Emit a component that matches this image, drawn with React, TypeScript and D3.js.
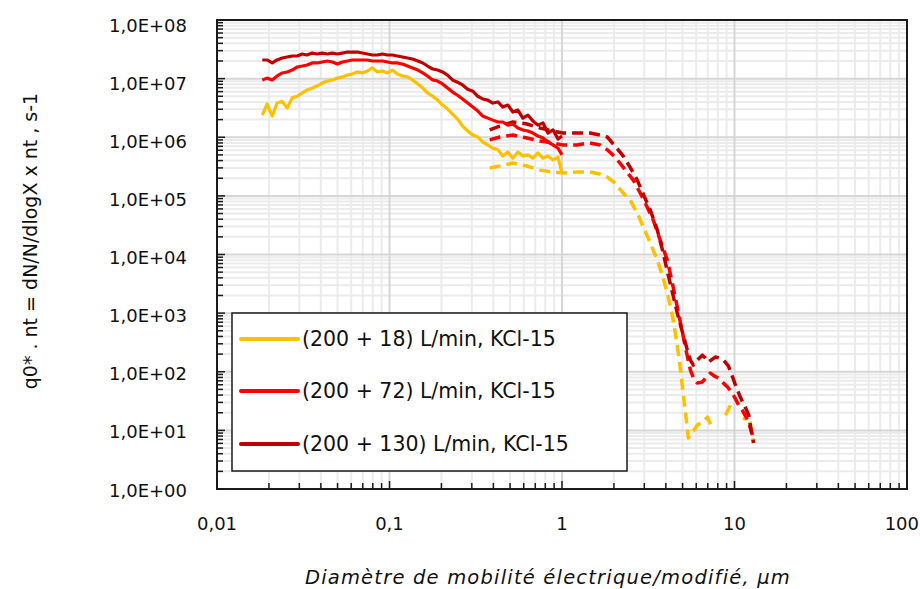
import React from "react";
import * as d3 from "d3";

// ---------- data ----------
const seriesNames = [
  "(200 + 18) L/min, KCl-15",
  "(200 + 72) L/min, KCl-15",
  "(200 + 130) L/min, KCl-15",
];
const seriesColors = ["#FFC000", "#FF0000", "#C00000"];

// SMPS sizes (µm), solid part
const smpsSizes = [0.0183, 0.0195, 0.0209, 0.0223, 0.0239, 0.0255, 0.0273, 0.0292, 0.0312, 0.0333,
  0.0356, 0.0381, 0.0407, 0.0436, 0.0466, 0.0499, 0.0533, 0.057, 0.0609, 0.0651,
  0.0697, 0.0745, 0.0796, 0.0851, 0.091, 0.0973, 0.104, 0.111, 0.119, 0.127,
  0.136, 0.146, 0.156, 0.166, 0.178, 0.19, 0.203, 0.217, 0.232, 0.248,
  0.265, 0.284, 0.304, 0.325, 0.347, 0.371, 0.397, 0.425, 0.454, 0.485,
  0.519, 0.555, 0.593, 0.634, 0.678, 0.725, 0.776, 0.829, 0.887, 0.948, 1.0];

const smps18 = [2.39e6, 3.68e6, 2.3e6, 3.83e6, 4.1e6, 3.15e6, 4.7e6, 5.0e6, 5.7e6, 6.4e6,
  6.9e6, 7.5e6, 8.4e6, 9.1e6, 9.5e6, 1.02e7, 1.07e7, 1.15e7, 1.2e7, 1.3e7,
  1.25e7, 1.35e7, 1.52e7, 1.3e7, 1.35e7, 1.25e7, 1.4e7, 1.2e7, 1.11e7, 1.07e7,
  9.5e6, 8.1e6, 6.9e6, 5.7e6, 5.0e6, 4.3e6, 3.54e6, 3.03e6, 2.49e6, 2.04e6,
  1.55e6, 1.28e6, 1.09e6, 1.01e6, 8.3e5, 7.4e5, 6.5e5, 6.1e5, 4.8e5, 5.6e5,
  4.4e5, 5.6e5, 4.8e5, 5.0e5, 4.4e5, 5.4e5, 4.4e5, 4.8e5, 4.1e5, 4.6e5, 2.45e5];

const smps72 = [9.5e6, 1.02e7, 9.5e6, 1.11e7, 1.25e7, 1.3e7, 1.4e7, 1.58e7, 1.64e7, 1.71e7,
  1.85e7, 1.85e7, 1.92e7, 2.0e7, 1.92e7, 1.77e7, 1.92e7, 2.0e7, 2.08e7, 2.08e7,
  2.08e7, 2.08e7, 2.0e7, 2.0e7, 2.0e7, 1.92e7, 1.85e7, 1.85e7, 1.77e7, 1.64e7,
  1.52e7, 1.4e7, 1.25e7, 1.11e7, 9.5e6, 9.1e6, 8.1e6, 6.9e6, 5.9e6, 5.2e6,
  4.5e6, 3.83e6, 3.27e6, 2.8e6, 2.3e6, 2.12e6, 1.96e6, 1.82e6, 1.82e6, 1.61e6,
  1.68e6, 1.44e6, 1.33e6, 1.28e6, 1.18e6, 1.05e6, 9.7e5, 8.3e5, 7.4e5, 6.5e5, 5.0e5];

const smps130 = [2.08e7, 2.08e7, 1.85e7, 2.08e7, 2.25e7, 2.34e7, 2.43e7, 2.43e7, 2.63e7, 2.53e7,
  2.73e7, 2.63e7, 2.73e7, 2.63e7, 2.73e7, 2.63e7, 2.73e7, 2.84e7, 2.84e7, 2.84e7,
  2.73e7, 2.63e7, 2.53e7, 2.53e7, 2.63e7, 2.53e7, 2.53e7, 2.43e7, 2.34e7, 2.25e7,
  2.16e7, 2.0e7, 1.85e7, 1.64e7, 1.46e7, 1.4e7, 1.3e7, 1.15e7, 9.5e6, 8.7e6,
  7.8e6, 6.6e6, 6.1e6, 5.0e6, 4.5e6, 4.3e6, 3.83e6, 4.0e6, 3.27e6, 3.54e6,
  2.69e6, 2.91e6, 2.12e6, 2.39e6, 1.89e6, 1.61e6, 1.75e6, 1.18e6, 1.33e6, 9.3e5, 1.05e6];

// dashed part (modified diameter)
const mod18Sizes = [0.381, 0.436, 0.519, 0.627, 0.745, 0.887, 1.01, 1.22, 1.45, 1.66,
  1.83, 2.03, 2.26, 2.48, 2.73, 2.96, 3.25, 3.57, 3.81, 4.08,
  4.36, 4.54, 4.79, 4.99, 5.19, 5.4, 5.7, 6.09, 6.51, 6.96,
  7.45, 8.0, 8.87, 9.48, 10.5, 11.3, 11.9, 12.4, 12.9];
const mod18 = [2.98e5, 3.23e5, 3.63e5, 3.23e5, 2.75e5, 2.55e5, 2.45e5, 2.55e5, 2.55e5, 2.36e5,
  2.09e5, 1.65e5, 1.12e5, 8.5e4, 5.1e4, 2.94e4, 1.57e4, 8.0e3, 4.45e3, 2.19e3,
  925, 456, 158, 55, 20.5, 7.4, 9.3, 12.3, 13.8, 16.8,
  10.9, null, 18.2, 27, null, 14.9, 19.7, 12.3, 6.1];

const mod72Sizes = [0.381, 0.436, 0.519, 0.627, 0.745, 0.887, 1.01, 1.22, 1.45, 1.66,
  1.83, 2.03, 2.26, 2.59, 2.84, 3.12, 3.38, 3.71, 4.08, 4.36,
  4.66, 4.92, 5.19, 5.55, 5.85, 6.09, 6.51, 6.87, 7.25, 7.65,
  8.07, 8.63, 9.11, 9.61, 10.1, 10.5, 11.1, 11.6, 12.1, 12.7];
const mod72 = [9.0e5, 1.01e6, 1.09e6, 9.7e5, 8.6e5, 8.0e5, 7.4e5, 7.4e5, 8.0e5, 7.4e5,
  6.1e5, 4.6e5, 3.1e5, 1.86e5, 1.12e5, 6.4e4, 3.86e4, 1.76e4, 8.0e3, 3.25e3,
  1.26e3, 577, 263, 107, 72, 64, 67, 81, 95, 84,
  78, 64, 55, 45, 35, 28, 22, 17.5, 13.3, 8.3];

const mod130Sizes = [0.381, 0.436, 0.519, 0.627, 0.745, 0.887, 1.01, 1.22, 1.45, 1.66,
  1.83, 2.03, 2.26, 2.48, 2.73, 2.96, 3.25, 3.57, 3.86, 4.13,
  4.36, 4.66, 4.99, 5.33, 5.55, 5.78, 6.09, 6.51, 6.78, 7.06,
  7.45, 7.76, 8.18, 8.63, 9.23, 9.61, 10.1, 10.8, 11.6, 12.1, 12.4, 12.9];
const mod130 = [1.33e6, 1.55e6, 1.82e6, 1.68e6, 1.44e6, 1.28e6, 1.18e6, 1.18e6, 1.18e6, 1.09e6,
  1.01e6, 7.1e5, 4.8e5, 3.1e5, 1.86e5, 1.07e5, 5.7e4, 2.61e4, 1.06e4, 4.45e3,
  2.28e3, 1.0e3, 474, 234, 158, 130, 158, 192, 171, 146,
  164, 178, 171, 158, 125, 91, 61, 37, 24, 18.2, 11.4, 6.1];

const xTickLabels = ["0,01", "0,1", "1", "10", "100"];
const xTickValues = [0.01, 0.1, 1, 10, 100];
const yExponents = [0, 1, 2, 3, 4, 5, 6, 7, 8];

const xTitle = "Diamètre de mobilité électrique/modifié, µm";
const yTitle = "q0* . nt = dN/N/dlogX x nt , s-1";

// ---------- layout ----------
const W = 920, H = 589;
const L = 217, R = 907, T = 20, B = 489;
const FONT = "'DejaVu Sans', 'Open Sans', sans-serif";

export default function App() {
  const x = d3.scaleLog().domain([0.01, 100]).range([L, R]);
  const y = d3.scaleLog().domain([1, 1e8]).range([B, T]);

  const minorX: number[] = [];
  for (let e = -2; e < 2; e++) for (let m = 2; m <= 9; m++) minorX.push(m * Math.pow(10, e));
  const minorY: number[] = [];
  for (let e = 0; e < 8; e++) for (let m = 2; m <= 9; m++) minorY.push(m * Math.pow(10, e));
  const majorY = yExponents.map((e) => Math.pow(10, e));

  const line = d3
    .line<[number, number | null]>()
    .defined((d) => d[1] !== null)
    .x((d) => x(d[0]))
    .y((d) => y(d[1] as number));

  const solid = [smps18, smps72, smps130].map((vals) =>
    line(smpsSizes.map((s, i) => [s, vals[i]] as [number, number | null]))
  );
  const dashedSets: [number[], (number | null)[]][] = [
    [mod18Sizes, mod18],
    [mod72Sizes, mod72],
    [mod130Sizes, mod130],
  ];
  const dashed = dashedSets.map(([sz, vals]) =>
    line(sz.map((s, i) => [s, vals[i]] as [number, number | null]))
  );

  const legendY = [339, 391, 444];

  return (
    <svg width={W} height={H} style={{ position: "absolute", left: 0, top: 0, background: "#fff" }}>
      <defs>
        <clipPath id="plot">
          <rect x={L} y={T} width={R - L} height={B - T} />
        </clipPath>
      </defs>
      <rect x={0} y={0} width={W} height={H} fill="#fff" />
      {/* minor gridlines */}
      <g stroke="#ebebeb" strokeWidth={2}>
        {minorX.map((v, i) => (
          <line key={"mx" + i} x1={x(v)} x2={x(v)} y1={T} y2={B} />
        ))}
        {minorY.map((v, i) => (
          <line key={"my" + i} x1={L} x2={R} y1={y(v)} y2={y(v)} />
        ))}
      </g>
      {/* major gridlines */}
      <g stroke="#d6d6d6" strokeWidth={2}>
        {xTickValues.map((v, i) => (
          <line key={"Mx" + i} x1={x(v)} x2={x(v)} y1={T} y2={B} />
        ))}
        {majorY.map((v, i) => (
          <line key={"My" + i} x1={L} x2={R} y1={y(v)} y2={y(v)} />
        ))}
      </g>
      {/* series */}
      <g clipPath="url(#plot)" fill="none" strokeLinejoin="round">
        {dashed.map((d, i) => (
          <path key={"d" + i} d={d || ""} stroke={seriesColors[i]} strokeWidth={3.5} strokeDasharray="11,6" />
        ))}
        {solid.map((d, i) => (
          <path key={"s" + i} d={d || ""} stroke={seriesColors[i]} strokeWidth={3.2} />
        ))}
      </g>
      {/* frame */}
      <rect x={L} y={T} width={R - L} height={B - T} fill="none" stroke="#1a1a1a" strokeWidth={2} />
      {/* ticks */}
      <g stroke="#1a1a1a" strokeWidth={1.5}>
        {majorY.map((v, i) => (
          <line key={"ty" + i} x1={L} x2={L + 8} y1={y(v)} y2={y(v)} />
        ))}
        {minorY.map((v, i) => (
          <line key={"tmy" + i} x1={L} x2={L + 6} y1={y(v)} y2={y(v)} />
        ))}
        {xTickValues.map((v, i) => (
          <line key={"tx" + i} x1={x(v)} x2={x(v)} y1={B} y2={B - 8} />
        ))}
        {minorX.map((v, i) => (
          <line key={"tmx" + i} x1={x(v)} x2={x(v)} y1={B} y2={B - 6} />
        ))}
      </g>
      {/* tick labels */}
      <g fontFamily={FONT} fontSize={18} fill="#111">
        {yExponents.map((e, i) => (
          <text key={"ly" + i} x={187} y={y(Math.pow(10, e)) + 1 + i * 0.6} textAnchor="end" dominantBaseline="central">
            {`1,0E+${String(e).padStart(2, "0")}`}
          </text>
        ))}
        {xTickValues.map((v, i) => {
          const last = i === xTickValues.length - 1;
          return (
            <text
              key={"lx" + i}
              x={last ? 919 : x(v)}
              y={523}
              textAnchor={last ? "end" : "middle"}
              dominantBaseline="central"
            >
              {xTickLabels[i]}
            </text>
          );
        })}
      </g>
      {/* axis titles */}
      <text
        x={548}
        y={577}
        textAnchor="middle"
        dominantBaseline="central"
        fontFamily={FONT}
        fontSize={19.5}
        letterSpacing={1.2}
        fontStyle="italic"
        fill="#111"
      >
        {xTitle}
      </text>
      <text
        transform={`translate(30,${241}) rotate(-90)`}
        textAnchor="middle"
        dominantBaseline="central"
        fontFamily={FONT}
        fontSize={19}
        fill="#111"
      >
        {yTitle}
      </text>
      {/* legend */}
      <rect x={232} y={313} width={395} height={158} fill="#fff" stroke="#1a1a1a" strokeWidth={1.5} />
      {seriesNames.map((n, i) => (
        <g key={"lg" + i}>
          <line x1={241} x2={298} y1={legendY[i]} y2={legendY[i]} stroke={seriesColors[i]} strokeWidth={4} strokeLinecap="round" />
          <text x={302} y={legendY[i]} dominantBaseline="central" fontFamily={FONT} fontSize={20.5} fill="#111">
            {n}
          </text>
        </g>
      ))}
    </svg>
  );
}
